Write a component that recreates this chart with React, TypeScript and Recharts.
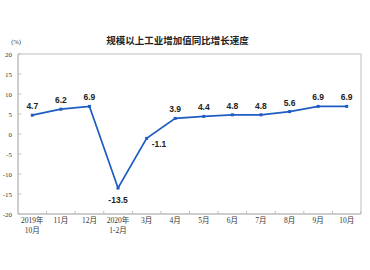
import React from 'react';
import { LineChart, Line, XAxis, YAxis, LabelList, ReferenceArea } from 'recharts';

const months = ['2019年\n10月', '11月', '12月', '2020年\n1-2月', '3月', '4月', '5月', '6月', '7月', '8月', '9月', '10月'];
const growth = [4.7, 6.2, 6.9, -13.5, -1.1, 3.9, 4.4, 4.8, 4.8, 5.6, 6.9, 6.9];
const yTicks = [-20, -15, -10, -5, 0, 5, 10, 15, 20];

const data = months.map((m, i) => ({ month: m, value: growth[i] }));

const BLUE = '#1d5cc2';
const AXIS = '#bdbdbd';
const TICKFONT = '"Liberation Serif", "Noto Sans CJK SC", serif';

const XTick = (props: any) => {
  const { x, y, payload, width, visibleTicksCount } = props;
  const band = (width || 343) / (visibleTicksCount || 12);
  const lines = String(payload.value).split('\n');
  return (
    <g>
      <line x1={x + band / 2} x2={x + band / 2} y1={y - 4} y2={y - 7} stroke={AXIS} strokeWidth={1} />
      <text x={x} y={y + 5} textAnchor="middle" fontSize={7.5} fontFamily={TICKFONT} fill="#333">
        {lines.map((l, i) => (
          <tspan key={i} x={x} dy={i === 0 ? 0 : 9.5}>{l}</tspan>
        ))}
      </text>
    </g>
  );
};

const YTick = (props: any) => {
  const { x, y, payload } = props;
  return (
    <g>
      <line x1={x + 6} x2={x + 9} y1={y} y2={y} stroke={AXIS} strokeWidth={1} />
      <text x={x} y={y} dy={2.5} textAnchor="end" fontSize={7} fontFamily={TICKFONT} fill="#333">
        {payload.value}
      </text>
    </g>
  );
};

const ValueLabel = (props: any) => {
  const { x, y, value, index } = props;
  let tx = x;
  let ty = y - 9;
  let anchor = 'middle';
  if (value < -10) {
    ty = y + 12;
  } else if (value < 0) {
    tx = x + 5;
    ty = y + 6;
    anchor = 'start';
  }
  return (
    <text key={index} x={tx} y={ty} dy={3} textAnchor={anchor} fontSize={8.5} fontWeight={600}
      fontFamily='"Liberation Sans", Arial, sans-serif' fill="#222">
      {value}
    </text>
  );
};

const Dot = (props: any) => {
  const { cx, cy, index } = props;
  return <rect key={index} x={cx - 1.5} y={cy - 1.5} width={3} height={3} fill={BLUE} />;
};

export default function App() {
  return (
    <div style={{ position: 'absolute', left: 0, top: 0, width: 370, height: 270, background: '#fff' }}>
      <LineChart width={370} height={270} data={data} margin={{ top: 54, right: 9, bottom: 26, left: 0 }}>
        <text x={177.5} y={44} textAnchor="middle" fontSize={9.5} fontWeight={700}
          fontFamily='"Noto Sans CJK SC", sans-serif' fill="#222">规模以上工业增加值同比增长速度</text>
        <text x={16} y={44} textAnchor="middle" fontSize={6.5} fontFamily={TICKFONT} fill="#333">(%)</text>
        <XAxis dataKey="month" scale="band" interval={0} height={30} tickSize={0} tickMargin={4}
          axisLine={{ stroke: AXIS }} tickLine={false} tick={<XTick />} />
        <YAxis domain={[-20, 20]} ticks={yTicks} width={18} tickSize={0} tickMargin={6}
          axisLine={{ stroke: AXIS }} tickLine={false} tick={<YTick />} interval={0} />
        <ReferenceArea y1={-20} y2={20} fill="none" stroke={AXIS} strokeWidth={1} ifOverflow="visible" />
        <Line type="linear" dataKey="value" stroke={BLUE} strokeWidth={1.7} dot={<Dot />} isAnimationActive={false}>
          <LabelList dataKey="value" content={<ValueLabel />} />
        </Line>
      </LineChart>
    </div>
  );
}
